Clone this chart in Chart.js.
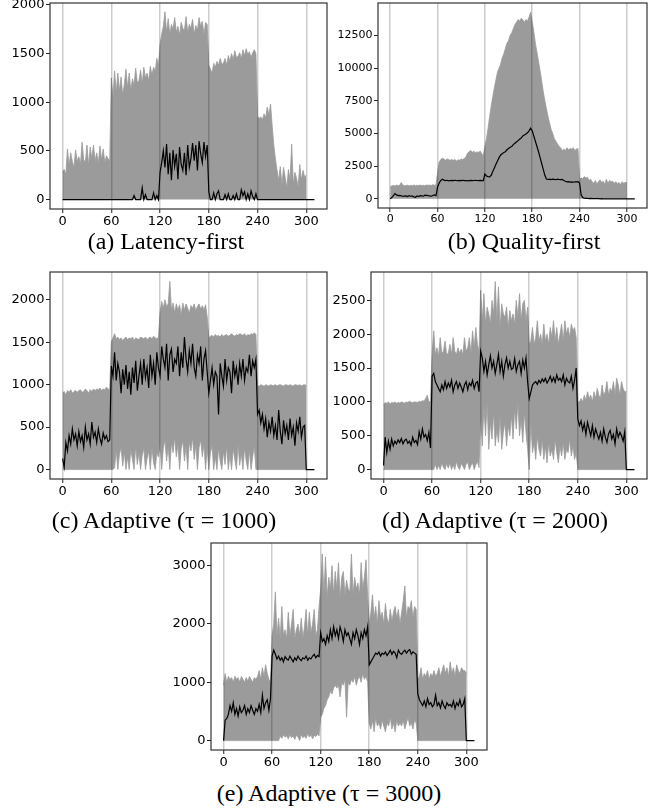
<!DOCTYPE html>
<html>
<head>
<meta charset="utf-8">
<script src="https://cdn.jsdelivr.net/npm/chart.js@4.4.1/dist/chart.umd.min.js"></script>
<style>
body { margin: 0; background: #fff; }
#page { position: relative; width: 655px; height: 809px; overflow: hidden; background: #fff; }
#page canvas { position: absolute; }
.cap { position: absolute; font-family: "Liberation Serif", "Times New Roman", serif; font-size: 24px; line-height: 24px; white-space: nowrap; transform: translateX(-50%); color: #000; }
</style>
</head>
<body>
<div id="page"></div>
<script>
// time in seconds (every 2 s)
var seconds = [
	0, 2, 4, 6, 8, 10, 12, 14, 16, 18,
	20, 22, 24, 26, 28, 30, 32, 34, 36, 38,
	40, 42, 44, 46, 48, 50, 52, 54, 56, 58,
	60, 62, 64, 66, 68, 70, 72, 74, 76, 78,
	80, 82, 84, 86, 88, 90, 92, 94, 96, 98,
	100, 102, 104, 106, 108, 110, 112, 114, 116, 118,
	120, 122, 124, 126, 128, 130, 132, 134, 136, 138,
	140, 142, 144, 146, 148, 150, 152, 154, 156, 158,
	160, 162, 164, 166, 168, 170, 172, 174, 176, 178,
	180, 182, 184, 186, 188, 190, 192, 194, 196, 198,
	200, 202, 204, 206, 208, 210, 212, 214, 216, 218,
	220, 222, 224, 226, 228, 230, 232, 234, 236, 238,
	240, 242, 244, 246, 248, 250, 252, 254, 256, 258,
	260, 262, 264, 266, 268, 270, 272, 274, 276, 278,
	280, 282, 284, 286, 288, 290, 292, 294, 296, 298,
	300, 302, 304, 306, 308, 310
];
var xTicks = [0, 60, 120, 180, 240, 300];

// (a) Latency-first
var aMax = [
	280, 310, 260, 520, 350, 480, 390, 330, 510, 390,
	440, 360, 590, 410, 380, 560, 350, 540, 420, 560,
	400, 480, 370, 550, 410, 520, 380, 450, 420, 400,
	1250, 1050, 1320, 1100, 1300, 1120, 1260, 1080, 1180, 1340,
	1150, 1300, 1120, 1240, 1180, 1350, 1200, 1220, 1330, 1190,
	1360, 1250, 1300, 1220, 1370, 1280, 1360, 1320, 1450, 1380,
	1600, 1700, 1780, 1930, 1720, 1860, 1700, 1800, 1750, 1870,
	1720, 1780, 1690, 1820, 1760, 1740, 1880, 1720, 1800, 1760,
	1850, 1700, 1790, 1740, 1870, 1780, 1830, 1700, 1820, 1800,
	1380, 1340, 1300, 1400, 1360, 1420, 1380, 1450, 1390, 1400,
	1450, 1380, 1480, 1420, 1500, 1440, 1530, 1460, 1470, 1510,
	1450, 1540, 1480, 1550, 1490, 1520, 1460, 1510, 1540, 1500,
	860, 830, 850, 820, 880, 840, 950, 870, 980, 760,
	560, 420, 300, 200, 340, 150, 330, 230, 120, 310,
	200, 570, 160, 280, 220, 130, 360, 200, 300, 230,
	250
];
var aMean = [
	0, 0, 0, 0, 0, 0, 0, 0, 0, 0,
	0, 0, 0, 0, 0, 0, 0, 0, 0, 0,
	0, 0, 0, 0, 0, 0, 0, 0, 0, 0,
	0, 0, 0, 0, 0, 0, 0, 0, 0, 0,
	0, 0, 0, 0, 40, 0, 0, 0, 0, 120,
	0, 50, 0, 0, 0, 0, 70, 0, 40, 0,
	280, 380, 500, 330, 570, 260, 480, 200, 510, 340,
	470, 210, 540, 360, 300, 480, 250, 560, 330, 420,
	580, 400, 560, 300, 600, 470, 380, 590, 440, 560,
	80, 0, 0, 70, 0, 60, 90, 0, 0, 0,
	50, 0, 60, 0, 0, 40, 0, 60, 0, 0,
	100, 40, 80, 0, 60, 0, 90, 30, 0, 60,
	0, 0, 0, 0, 0, 0, 0, 0, 0, 0,
	0, 0, 0, 0, 0, 0, 0, 0, 0, 0,
	0, 0, 0, 0, 0, 0, 0, 0, 0, 0,
	0, 0, 0, 0, 0, 0
];

// (b) Quality-first
var bMax = [
	900, 1000, 1020, 980, 1050, 1010, 1040, 1250, 1040, 1020,
	1000, 1050, 990, 1030, 1010, 1060, 1000, 1040, 1020, 1050,
	1010, 1040, 1000, 1060, 1030, 1050, 1020, 1080, 1040, 1060,
	2000, 2800, 3000, 3100, 3050, 2950, 3050, 3000, 2950, 3000,
	2950, 3000, 2900, 2980, 2950, 3050, 3000, 3100, 3200, 3500,
	3600, 3700, 3550, 3650, 3500, 3600, 3550, 3650, 3450, 3300,
	4000, 4600, 5400, 6300, 7100, 7800, 8500, 9100, 9700, 10000,
	10300, 10800, 11100, 11500, 11900, 12100, 12500, 12700, 13000, 13300,
	13500, 13700, 13600, 13800, 13700, 13500, 13700, 13600, 13900, 14270,
	13500, 12800, 11900, 11200, 10500, 9800, 9000, 8200, 7500, 6900,
	6300, 5800, 5300, 5000, 4600, 4400, 4200, 4000, 3900, 3700,
	3800, 3700, 3900, 3750, 3850, 3800, 3900, 3700, 3800, 3850,
	1500, 1600, 1550, 1700, 1600, 1650, 1400, 1500, 1300, 1200,
	1400, 1150, 1300, 1450, 1250, 1350, 1100, 1500, 1200, 1400,
	1300, 1350, 1200, 1300, 1150, 1250, 1100, 1300, 1200, 1250,
	1250
];
var bMean = [
	0, 100, 250, 400, 300, 250, 260, 230, 200, 210,
	220, 180, 250, 200, 230, 150, 120, 220, 180, 250,
	230, 200, 280, 260, 240, 230, 200, 260, 300, 250,
	900, 1200, 1400, 1500, 1430, 1400, 1420, 1380, 1400, 1410,
	1390, 1420, 1400, 1380, 1410, 1400, 1420, 1390, 1400, 1380,
	1400, 1410, 1390, 1400, 1420, 1400, 1390, 1410, 1400, 1400,
	1900, 1750, 1700, 1680, 1800, 2100, 2350, 2650, 2900, 3150,
	3350, 3450, 3550, 3600, 3750, 3850, 3950, 4000, 4150, 4250,
	4350, 4450, 4550, 4650, 4800, 4880, 4950, 5050, 5200, 5400,
	5200, 4800, 4400, 4000, 3600, 3150, 2700, 2250, 1800, 1520,
	1480, 1500, 1470, 1500, 1490, 1460, 1500, 1480, 1470, 1490,
	1400, 1350, 1300, 1320, 1280, 1300, 1270, 1300, 1290, 1310,
	1200, 300, 100, 60, 40, 30, 20, 30, 20, 10,
	20, 10, 10, 0, 10, 0, 0, 0, 0, 0,
	0, 0, 0, 0, 0, 0, 0, 0, 0, 0,
	0, 0, 0, 0, 0, 0
];

// (c) Adaptive, tau = 1000
var cMax = [
	900, 920, 880, 930, 910, 940, 900, 920, 930, 910,
	930, 940, 910, 920, 950, 930, 900, 940, 920, 950,
	930, 950, 940, 960, 930, 950, 940, 970, 950, 940,
	1500, 1550, 1600, 1540, 1560, 1530, 1550, 1520, 1540, 1560,
	1530, 1550, 1540, 1560, 1520, 1550, 1540, 1530, 1560, 1550,
	1540, 1560, 1530, 1550, 1560, 1540, 1570, 1550, 1540, 1560,
	1850, 1980, 1900, 2000, 1920, 1950, 2216, 1880, 1960, 1850,
	1950, 1880, 1940, 1820, 1960, 1880, 1950, 1900, 1840, 1930,
	1900, 1950, 1870, 1920, 1950, 1890, 1930, 1880, 1940, 1800,
	1550, 1570, 1580, 1560, 1590, 1570, 1580, 1560, 1590, 1570,
	1580, 1590, 1570, 1580, 1600, 1580, 1570, 1590, 1580, 1600,
	1590, 1580, 1600, 1570, 1590, 1580, 1600, 1590, 1610, 1590,
	990, 980, 1000, 990, 980, 1000, 990, 985, 1000, 990,
	990, 1000, 985, 995, 1000, 990, 985, 1000, 995, 990,
	1000, 990, 985, 1000, 995, 990, 1000, 985, 995, 1000,
	990
];
var cMin = [
	0, 0, 0, 0, 0, 0, 0, 0, 0, 0,
	0, 0, 0, 0, 0, 0, 0, 0, 0, 0,
	0, 0, 0, 0, 0, 0, 0, 0, 0, 0,
	0, 0, 20, 230, 0, 180, 260, 40, 210, 0,
	150, 0, 240, 120, 0, 280, 60, 200, 0, 170,
	250, 0, 130, 220, 0, 260, 80, 0, 200, 150,
	300, 0, 250, 350, 100, 280, 0, 320, 200, 380,
	150, 300, 0, 250, 340, 100, 280, 0, 330, 220,
	380, 120, 300, 0, 260, 350, 150, 300, 0, 250,
	0, 200, 280, 0, 150, 0, 250, 100, 0, 220,
	60, 280, 0, 180, 0, 250, 120, 0, 300, 50,
	200, 0, 260, 100, 0, 230, 0, 150, 280, 0,
	0, 0, 0, 0, 0, 0, 0, 0, 0, 0,
	0, 0, 0, 0, 0, 0, 0, 0, 0, 0,
	0, 0, 0, 0, 0, 0, 0, 0, 0, 0,
	0
];
var cMean = [
	130, 30, 320, 220, 400, 300, 480, 350, 420, 280,
	450, 330, 400, 260, 500, 350, 420, 300, 560, 380,
	440, 320, 480, 370, 300, 430, 360, 400, 330, 350,
	1220, 1100, 1380, 1050, 1250, 1150, 900, 1180, 1000, 1230,
	950, 1150, 880, 1200, 1020, 1280, 930, 1100, 1250, 1000,
	1300, 1080, 1200, 960, 1350, 1100, 1250, 1000, 1380, 1200,
	1100, 1450, 1300, 1200, 1480, 1050, 1350, 1420, 1150, 1300,
	1250, 1450, 1100, 1380, 1200, 1560, 1300, 1150, 1400, 1250,
	1480, 1200, 1100, 1350, 1250, 1450, 1050, 1300, 1400, 1150,
	900, 1050, 1200, 1000, 1150, 1100, 650, 1250, 1100, 980,
	1300, 1050, 1200, 1150, 900, 1280, 1100, 1200, 1000, 1250,
	1100, 1300, 1050, 1200, 1150, 1350, 1100, 1280, 1200, 1300,
	650, 700, 550, 650, 480, 600, 380, 550, 450, 620,
	400, 520, 350, 700, 450, 300, 580, 420, 520, 350,
	600, 400, 500, 280, 550, 450, 620, 380, 500, 520,
	0, 0, 0, 0, 0, 0
];

// (d) Adaptive, tau = 2000
var dMax = [
	960, 990, 980, 1000, 970, 990, 985, 1000, 980, 990,
	985, 1000, 990, 980, 1000, 990, 1010, 995, 990, 1000,
	1000, 990, 1010, 1000, 1020, 1010, 1050, 1100, 1000, 1010,
	1700, 2050, 1700, 1800, 1680, 1950, 1720, 1750, 1900, 1700,
	1720, 1850, 1700, 1950, 1750, 1700, 1800, 1720, 1780, 1700,
	1950, 1750, 1800, 1950, 1720, 2050, 1800, 2100, 1850, 1750,
	2650, 2200, 2600, 2150, 2400, 2300, 2150, 2500, 2300, 2780,
	2200, 2700, 2100, 2450, 2300, 2250, 2400, 2100, 2350, 2200,
	2300, 2150, 2500, 2250, 2600, 2200, 2450, 2500, 2200, 2400,
	1850, 1900, 2100, 1850, 1950, 2200, 1900, 2000, 1850, 2150,
	1900, 2000, 1850, 2100, 1950, 2200, 1900, 2100, 1850, 2000,
	2150, 1900, 2200, 2000, 2100, 1950, 2150, 2050, 2100, 1950,
	1000, 1000, 1050, 1000, 1100, 1020, 1150, 1050, 1100, 1000,
	1150, 1050, 1200, 1100, 1050, 1250, 1100, 1150, 1300, 1100,
	1200, 1150, 1300, 1100, 1350, 1250, 1100, 1300, 1200, 1150,
	1150
];
var dMin = [
	0, 0, 0, 0, 0, 0, 0, 0, 0, 0,
	0, 0, 0, 0, 0, 0, 0, 0, 0, 0,
	0, 0, 0, 0, 0, 0, 0, 0, 0, 0,
	0, 0, 80, 0, 60, 0, 100, 30, 0, 90,
	20, 100, 0, 70, 0, 120, 40, 0, 90, 50,
	0, 80, 110, 0, 60, 100, 0, 70, 120, 30,
	800, 350, 950, 500, 1000, 300, 700, 450, 850, 350,
	600, 400, 800, 300, 550, 700, 350, 650, 500, 800,
	450, 900, 600, 1000, 500, 750, 400, 850, 550, 300,
	0, 700, 250, 400, 150, 500, 300, 200, 450, 150,
	350, 100, 400, 200, 300, 150, 450, 250, 100, 350,
	200, 400, 150, 300, 250, 450, 200, 350, 150, 250,
	0, 0, 0, 0, 0, 0, 0, 0, 0, 0,
	0, 0, 0, 0, 0, 0, 0, 0, 0, 0,
	0, 0, 0, 0, 0, 0, 0, 0, 0, 0,
	0
];
var dMean = [
	60, 480, 250, 420, 300, 450, 350, 420, 380, 440,
	400, 460, 380, 430, 450, 390, 420, 360, 480, 400,
	430, 370, 560, 450, 600, 480, 520, 430, 550, 320,
	1380, 1420, 1300, 1250, 1200, 1150, 1250, 1180, 1300, 1200,
	1280, 1220, 1320, 1150, 1250, 1300, 1200, 1280, 1220, 1150,
	1250, 1300, 1180, 1280, 1240, 1320, 1200, 1280, 1300, 1150,
	1750, 1650, 1450, 1600, 1400, 1550, 1680, 1500, 1600, 1420,
	1550, 1700, 1450, 1600, 1380, 1550, 1650, 1500, 1600, 1480,
	1500, 1640, 1450, 1550, 1600, 1420, 1620, 1500, 1650, 1300,
	1050, 1150, 1250, 1280, 1300, 1260, 1320, 1280, 1340, 1300,
	1350, 1280, 1320, 1380, 1300, 1360, 1290, 1400, 1320, 1350,
	1300, 1400, 1250, 1350, 1300, 1280, 1380, 1200, 1320, 1500,
	750, 650, 720, 580, 680, 520, 700, 600, 500, 650,
	480, 600, 520, 450, 550, 420, 600, 480, 400, 530,
	580, 450, 520, 380, 600, 480, 550, 500, 420, 560,
	0, 0, 0, 0, 0, 0
];

// (e) Adaptive, tau = 3000
var eMax = [
	950, 1150, 1000, 1100, 1050, 1080, 1000, 1100, 1050, 1080,
	1000, 1100, 1050, 1000, 1080, 1020, 1100, 1050, 1000, 1080,
	1050, 1100, 1200, 1050, 1250, 1100, 1300, 1150, 1050, 1000,
	1800, 2000, 2550, 1800, 2100, 1750, 2300, 1800, 1900, 1750,
	2200, 1800, 2000, 2250, 1750, 1900, 2000, 1800, 2100, 1750,
	1950, 2250, 1800, 2200, 1850, 2000, 2250, 1800, 1900, 2300,
	2600, 3200, 2500, 3150, 2450, 2800, 2600, 3000, 2500, 2900,
	2600, 3050, 2450, 2800, 2900, 2500, 2750, 2600, 2550, 3200,
	2500, 2800, 2600, 2700, 2500, 3050, 2600, 2800, 3100, 2500,
	2000, 2200, 2500, 2100, 2300, 2000, 2400, 2100, 2200, 2000,
	2350, 2100, 2000, 2250, 2050, 2200, 2300, 2100, 2250, 2000,
	2200, 2400, 2650, 2100, 2300, 2250, 2400, 2100, 2300, 2250,
	1050, 1100, 1250, 1050, 1150, 1100, 1200, 1050, 1150, 1100,
	1200, 1100, 1150, 1250, 1100, 1200, 1300, 1150, 1250, 1100,
	1350, 1150, 1250, 1100, 1300, 1200, 1150, 1250, 1200, 1200,
	1150
];
var eMin = [
	0, 0, 0, 0, 0, 0, 0, 0, 0, 0,
	0, 0, 0, 0, 0, 0, 0, 0, 0, 0,
	0, 0, 0, 0, 0, 0, 0, 0, 0, 0,
	0, 0, 0, 0, 0, 80, 40, 100, 60, 80,
	30, 100, 50, 80, 20, 90, 60, 0, 100, 50,
	80, 40, 120, 60, 100, 30, 90, 70, 110, 80,
	400, 450, 550, 600, 700, 750, 850, 800, 900, 950,
	900, 950, 750, 1000, 950, 1050, 400, 1000, 950, 1050,
	1000, 1100, 950, 1050, 1100, 1000, 1150, 1050, 1100, 1000,
	300, 200, 350, 150, 400, 250, 300, 200, 350, 250,
	150, 300, 250, 400, 200, 300, 150, 350, 250, 300,
	250, 350, 200, 300, 400, 250, 300, 200, 350, 300,
	0, 0, 0, 0, 0, 0, 0, 0, 0, 0,
	0, 0, 0, 0, 0, 0, 0, 0, 0, 0,
	0, 0, 0, 0, 0, 0, 0, 0, 0, 0,
	0
];
var eMean = [
	0, 350, 380, 450, 600, 500, 650, 450, 550, 420,
	580, 480, 520, 600, 450, 550, 480, 600, 520, 450,
	550, 500, 620, 480, 780, 550, 650, 700, 520, 720,
	1450, 1550, 1480, 1400, 1450, 1380, 1420, 1350, 1440, 1400,
	1380, 1450, 1400, 1350, 1420, 1380, 1450, 1400, 1370, 1420,
	1400, 1450, 1380, 1420, 1400, 1450, 1480, 1420, 1460, 1440,
	1850, 1700, 1750, 1650, 1800, 1700, 1900, 1750, 1950, 1800,
	1900, 1750, 1950, 1850, 1700, 1900, 1800, 1850, 1750, 1650,
	1850, 1750, 1900, 1800, 1650, 1850, 1750, 1900, 1800, 1950,
	1300, 1350, 1400, 1450, 1500, 1480, 1520, 1450, 1500, 1480,
	1520, 1460, 1500, 1550, 1480, 1530, 1500, 1420, 1550, 1500,
	1480, 1520, 1550, 1500, 1540, 1560, 1480, 1520, 1500, 1480,
	800, 700, 650, 600, 680, 580, 720, 620, 650, 580,
	620, 780, 600, 650, 560, 680, 600, 550, 650, 600,
	620, 580, 680, 550, 650, 600, 700, 580, 620, 720,
	0, 0, 0, 0, 0, 0
];

var panels = [
	{ box: [50, 3, 327, 209], yMin: -97, yMax: 2020, yTicks: [0, 500, 1000, 1500, 2000], font: 13,
	  max: aMax, min: null, mean: aMean, caption: '(a) Latency-first', capX: 166, capY: 229 },
	{ box: [378, 3, 647, 208], yMin: -700, yMax: 14970, yTicks: [0, 2500, 5000, 7500, 10000, 12500], font: 11,
	  max: bMax, min: null, mean: bMean, caption: '(b) Quality-first', capX: 524, capY: 229 },
	{ box: [50, 272, 327, 479], yMin: -111, yMax: 2326, yTicks: [0, 500, 1000, 1500, 2000], font: 13,
	  max: cMax, min: cMin, mean: cMean, caption: '(c) Adaptive (\u03c4 = 1000)', capX: 164, capY: 508 },
	{ box: [371, 272, 647, 479], yMin: -139, yMax: 2920, yTicks: [0, 500, 1000, 1500, 2000, 2500], font: 13,
	  max: dMax, min: dMin, mean: dMean, caption: '(d) Adaptive (\u03c4 = 2000)', capX: 495, capY: 508 },
	{ box: [211, 543, 487, 750], yMin: -161, yMax: 3388, yTicks: [0, 1000, 2000, 3000], font: 13,
	  max: eMax, min: eMin, mean: eMean, caption: '(e) Adaptive (\u03c4 = 3000)', capX: 329, capY: 781 }
];

var BAND = '#9b9b9b';

function points(values) {
	return values.map(function (v, i) { return { x: seconds[i], y: v }; });
}

function plain(v) {
	return String(v);
}

// four spines like matplotlib
var boxPlugin = {
	id: 'box',
	afterDraw: function (chart) {
		var a = chart.chartArea, ctx = chart.ctx;
		ctx.save();
		ctx.strokeStyle = '#333';
		ctx.lineWidth = 1.2;
		ctx.strokeRect(a.left, a.top, a.right - a.left, a.bottom - a.top);
		ctx.restore();
	}
};

var page = document.getElementById('page');

panels.forEach(function (p) {
	var w = p.box[2] - p.box[0] + 55;
	var h = p.box[3] - p.box[1] + 29;
	var canvas = document.createElement('canvas');
	canvas.width = w;
	canvas.height = h;
	canvas.style.left = (p.box[0] - 50) + 'px';
	canvas.style.top = (p.box[1] - 3) + 'px';
	page.appendChild(canvas);

	var cap = document.createElement('div');
	cap.className = 'cap';
	cap.textContent = p.caption;
	cap.style.left = p.capX + 'px';
	cap.style.top = p.capY + 'px';
	page.appendChild(cap);

	var datasets = [{
		data: points(p.mean),
		borderColor: '#000',
		borderWidth: 1.2,
		pointRadius: 0,
		fill: false
	}, {
		data: points(p.max),
		borderColor: BAND,
		backgroundColor: BAND,
		borderWidth: 0.8,
		pointRadius: 0,
		fill: p.min ? '+1' : 'origin'
	}];
	if (p.min) {
		datasets.push({
			data: points(p.min),
			borderColor: BAND,
			borderWidth: 0.8,
			pointRadius: 0,
			fill: false
		});
	}

	new Chart(canvas, {
		type: 'line',
		data: { datasets: datasets },
		plugins: [boxPlugin],
		options: {
			responsive: false,
			animation: false,
			devicePixelRatio: 1,
			layout: { padding: { left: 0, top: 3, right: 5, bottom: 0 } },
			plugins: { legend: { display: false }, tooltip: { enabled: false } },
			scales: {
				x: {
					type: 'linear',
					min: -15.5,
					max: 325.5,
					afterBuildTicks: function (s) { s.ticks = xTicks.map(function (v) { return { value: v }; }); },
					afterFit: function (s) { s.height = 26; s.paddingLeft = 0; s.paddingRight = 0; },
					border: { display: false },
					grid: { z: 1, color: 'rgba(0,0,0,0.2)', lineWidth: 1.5, drawTicks: true, tickLength: 4, tickColor: '#222', tickWidth: 1 },
					ticks: { callback: plain, color: '#000', font: { family: 'DejaVu Sans', size: p.font }, padding: 1, maxRotation: 0, autoSkip: false }
				},
				y: {
					type: 'linear',
					min: p.yMin,
					max: p.yMax,
					afterBuildTicks: function (s) { s.ticks = p.yTicks.map(function (v) { return { value: v }; }); },
					afterFit: function (s) { s.width = 50; s.paddingTop = 0; s.paddingBottom = 0; },
					border: { display: false },
					grid: { drawOnChartArea: false, drawTicks: true, tickLength: 4, tickColor: '#222', tickWidth: 1 },
					ticks: { callback: plain, color: '#000', font: { family: 'DejaVu Sans', size: p.font }, padding: 1.5, autoSkip: false }
				}
			}
		}
	});
});
</script>
</body>
</html>
